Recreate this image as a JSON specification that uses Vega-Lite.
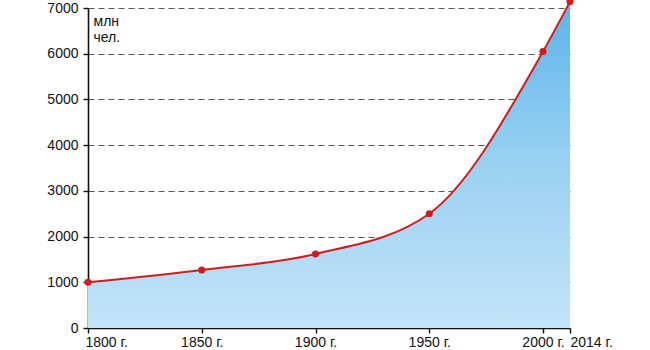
{
  "$schema": "https://vega.github.io/schema/vega-lite/v6.json",
  "width": 482,
  "height": 320,
  "autosize": {"type": "none"},
  "padding": {"left": 88, "top": 8, "right": 80, "bottom": 22},
  "background": "white",
  "config": {
    "view": {"stroke": null},
    "font": "Liberation Sans",
    "axis": {
      "labelFont": "Liberation Sans",
      "labelFontSize": 14,
      "labelColor": "#111",
      "domainColor": "#111",
      "domainWidth": 1.6,
      "tickColor": "#111",
      "tickWidth": 1.4,
      "tickSize": 5
    }
  },
  "data": {
    "values": [
      {"year": 1800, "pop": 1000},
      {"year": 1850, "pop": 1270},
      {"year": 1900, "pop": 1620},
      {"year": 1950, "pop": 2500},
      {"year": 2000, "pop": 6050},
      {"year": 2014, "pop": 7140}
    ]
  },
  "encoding": {
    "x": {
      "field": "year",
      "type": "quantitative",
      "scale": {"domain": [1800, 2000, 2014], "range": [0, 455, 482], "nice": false, "zero": false},
      "axis": {
        "title": null,
        "values": [1800, 1850, 1900, 1950, 2000, 2014],
        "grid": false,
        "format": "d",
        "labelExpr": "datum.label + ' г.'",
        "labelPadding": 2,
        "labelAlign": {"condition": {"test": "datum.value == 1800 || datum.value == 2014", "value": "left"}, "value": "center"},
        "labelOffset": {"condition": {"test": "datum.value == 1800", "value": -3}, "value": 0}
      }
    },
    "y": {
      "field": "pop",
      "type": "quantitative",
      "scale": {"domain": [0, 7000], "nice": false},
      "axis": {
        "values": [0, 1000, 2000, 3000, 4000, 5000, 6000, 7000],
        "format": "d",
        "grid": true,
        "gridColor": "#555",
        "gridDash": [6, 4],
        "gridWidth": 1,
        "labelPadding": 5,
        "title": ["млн", "чел."],
        "titleFont": "Liberation Sans",
        "titleFontSize": 14,
        "titleFontWeight": "normal",
        "titleColor": "#111",
        "titleAngle": 0,
        "titleAlign": "left",
        "titleBaseline": "top",
        "titleX": 5,
        "titleY": 6,
        "titleLineHeight": 16
      }
    }
  },
  "layer": [
    {
      "mark": {
        "type": "area",
        "interpolate": "monotone",
        "color": {
          "gradient": "linear",
          "x1": 0, "y1": 0, "x2": 0, "y2": 1,
          "stops": [
            {"offset": 0, "color": "#5cb3ea"},
            {"offset": 0.5, "color": "#9ad1f2"},
            {"offset": 1, "color": "#c4e4f7"}
          ]
        }
      }
    },
    {
      "mark": {"type": "line", "interpolate": "monotone", "color": "#cc1f1f", "strokeWidth": 2}
    },
    {
      "mark": {"type": "point", "filled": true, "color": "#d41a1a", "size": 50, "opacity": 1}
    }
  ]
}
